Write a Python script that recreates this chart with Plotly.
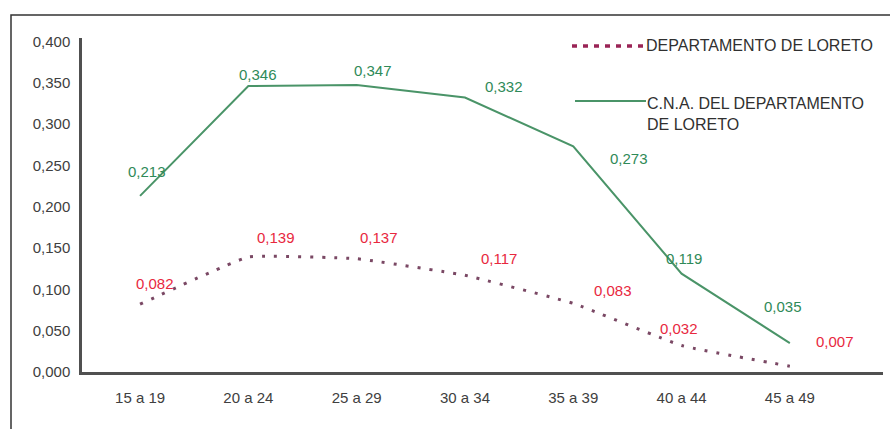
import plotly.graph_objects as go

# Age groups and rates
grupos = ["15 a 19", "20 a 24", "25 a 29", "30 a 34", "35 a 39", "40 a 44", "45 a 49"]
loreto = [0.082, 0.139, 0.137, 0.117, 0.083, 0.032, 0.007]
cna_loreto = [0.213, 0.346, 0.347, 0.332, 0.273, 0.119, 0.035]

# Label offsets (pixels) for each value label
loreto_shift = [(15, 21), (28, 20), (22, 21), (34, 17), (40, 13), (-3, 17), (45, 25)]
cna_shift = [(7, 24), (10, 11), (16, 15), (39, 11), (56, -12), (2, 15), (-7, 37)]

FONT = "Liberation Sans Narrow, Arial Narrow, Liberation Sans, Arial"
GREEN_LINE = "#4a9468"
GREEN_TXT = "#2f8a58"
RED_TXT = "#e8283e"
RED_LINE = "#7a4864"

idx = list(range(len(grupos)))

fig = go.Figure()
fig.add_trace(go.Scatter(
    x=idx, y=loreto, mode="lines", name="DEPARTAMENTO DE LORETO",
    line=dict(color=RED_LINE, width=3, dash="3px,9px", shape="spline", smoothing=0.3),
    showlegend=False,
))
fig.add_trace(go.Scatter(
    x=idx, y=cna_loreto, mode="lines", name="C.N.A. DEL DEPARTAMENTO DE LORETO",
    line=dict(color=GREEN_LINE, width=2),
    showlegend=False,
))

def fmt(v):
    return f"{v:.3f}".replace(".", ",")

for i, v in enumerate(loreto):
    dx, dy = loreto_shift[i]
    fig.add_annotation(x=i, y=v, text=fmt(v), showarrow=False, xshift=dx, yshift=dy,
                       font=dict(family=FONT, size=15, color=RED_TXT))
for i, v in enumerate(cna_loreto):
    dx, dy = cna_shift[i]
    fig.add_annotation(x=i, y=v, text=fmt(v), showarrow=False, xshift=dx, yshift=dy,
                       font=dict(family=FONT, size=15, color=GREEN_TXT))

# Plot area geometry in pixels (used for paper-coordinate decorations)
L, R, T, B = 82, 883, 38, 372
W, H = R - L, B - T
def px(x):
    return (x - L) / W
def py(y):
    return (B - y) / H

# Legend drawn by hand
fig.add_shape(type="line", xref="paper", yref="paper", x0=px(572), x1=px(645), y0=py(46), y1=py(46),
              line=dict(color="#9a2456", width=3.5, dash="5px,6px"))
fig.add_annotation(xref="paper", yref="paper", x=px(644), y=py(46), xanchor="left", yanchor="middle",
                   text="DEPARTAMENTO DE LORETO", showarrow=False,
                   font=dict(family=FONT, size=16, color="#303030"))
fig.add_shape(type="line", xref="paper", yref="paper", x0=px(575), x1=px(646), y0=py(101), y1=py(101),
              line=dict(color=GREEN_LINE, width=2))
fig.add_annotation(xref="paper", yref="paper", x=px(645), y=py(114), xanchor="left", yanchor="middle",
                   align="left", text="C.N.A. DEL DEPARTAMENTO<br>DE LORETO", showarrow=False,
                   font=dict(family=FONT, size=16, color="#303030"))

# Outer frame
fig.add_shape(type="rect", xref="paper", yref="paper", x0=px(11), x1=px(960), y0=py(15), y1=py(500),
              line=dict(color="#333333", width=1.5), layer="below")

fig.update_layout(
    width=890, height=429,
    margin=dict(l=L, r=890 - R, t=T, b=429 - B),
    paper_bgcolor="white", plot_bgcolor="white",
    separators=",.",
    showlegend=False,
    font=dict(family=FONT, size=12, color="#404040"),
    xaxis=dict(
        tickmode="array", tickvals=idx, ticktext=grupos,
        range=[-0.536, 6.86], showgrid=False, zeroline=False,
        showline=True, linecolor="#505050", linewidth=2.5,
        ticks="", ticklabelstandoff=10,
        tickfont=dict(family=FONT, size=15, color="#404040"),
    ),
    yaxis=dict(
        range=[0, 0.404], tickvals=[0, 0.05, 0.1, 0.15, 0.2, 0.25, 0.3, 0.35, 0.4],
        tickformat=".3f", showgrid=False, zeroline=False,
        showline=True, linecolor="#505050", linewidth=2.5,
        ticks="", ticklabelstandoff=6,
        tickfont=dict(family=FONT, size=15, color="#404040"),
    ),
)

fig.write_html("out.html")
